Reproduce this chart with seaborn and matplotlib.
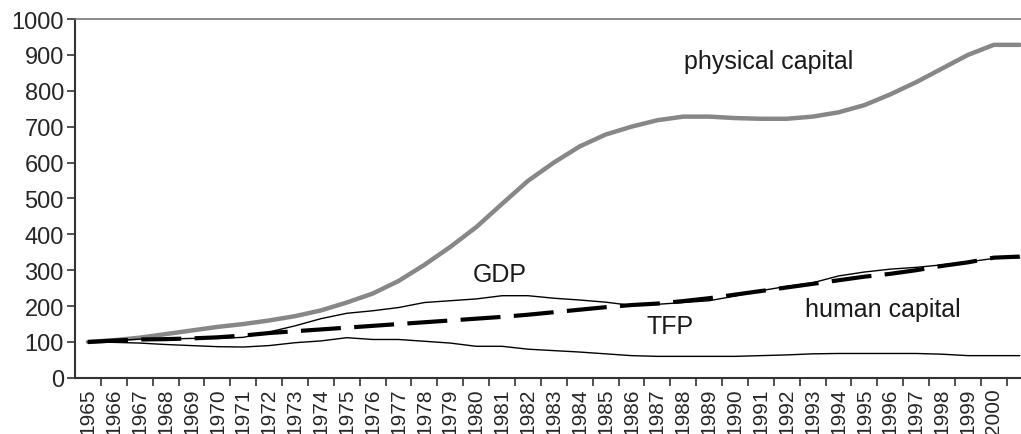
import numpy as np
import pandas as pd
import matplotlib
matplotlib.use("Agg")
import matplotlib.pyplot as plt
import seaborn as sns

# -----------------------------
# data (index 1965 = 100)
# -----------------------------
years = list(range(1965, 2002))
year_labels = [str(y) for y in years[:-1]] + [""]

physical_capital = [100, 105, 112, 122, 132, 142, 150, 160, 172, 188,
                    210, 235, 270, 315, 365, 420, 485, 549, 600, 645,
                    678, 700, 718, 728, 728, 724, 722, 722, 728, 740,
                    760, 790, 824, 862, 900, 928, 928]
gdp = [100, 104, 108, 108, 110, 110, 113, 128, 145, 165,
       180, 187, 196, 210, 215, 220, 229, 229, 222, 217,
       211, 202, 205, 210, 215, 228, 243, 255, 265, 284,
       295, 303, 308, 315, 323, 333, 335]
tfp = [100, 104, 107, 108, 110, 113, 118, 125, 130, 135,
       140, 145, 150, 155, 160, 165, 170, 176, 183, 190,
       197, 203, 207, 214, 222, 232, 242, 252, 262, 272,
       282, 290, 300, 312, 322, 335, 338]
human_capital = [100, 99, 97, 93, 90, 87, 86, 90, 98, 103,
                 112, 107, 107, 102, 97, 88, 88, 80, 76, 72,
                 67, 62, 60, 60, 60, 60, 62, 64, 67, 68,
                 68, 68, 68, 66, 62, 62, 62]

# -----------------------------
# plot
# -----------------------------
sns.set_style("white")
plt.rcParams["font.family"] = ["Liberation Sans", "DejaVu Sans"]

df = pd.DataFrame({
    "idx": np.arange(len(years)),
    "physical": physical_capital,
    "gdp": gdp,
    "tfp": tfp,
    "human": human_capital,
})

fig = plt.figure(figsize=(10.21, 4.35), dpi=100)
ax = fig.add_axes([0.0735, 0.129, 0.9265, 0.825])

sns.lineplot(data=df, x="idx", y="physical", ax=ax, color="#878787", linewidth=3.2)
sns.lineplot(data=df, x="idx", y="human", ax=ax, color="black", linewidth=1.0)
sns.lineplot(data=df, x="idx", y="gdp", ax=ax, color="black", linewidth=1.0)
sns.lineplot(data=df, x="idx", y="tfp", ax=ax, color="black", linewidth=3.0)
ax.lines[-1].set_dashes((9.6, 3.2))

ax.set_xlim(-0.5, 36.05)
ax.set_ylim(0, 1000)
ax.set_yticks(range(0, 1001, 100))
ax.tick_params(axis="y", labelsize=17, length=6, width=1.2, direction="out",
               left=True, color="#333333", pad=2)

# labels at category centres, tick marks on category boundaries
ax.set_xticks(df["idx"])
ax.set_xticklabels(year_labels, rotation=90, fontsize=15)
ax.set_xticks(np.arange(0.5, 36, 1), minor=True)
ax.tick_params(axis="x", which="major", length=0, pad=7)
ax.tick_params(axis="x", which="minor", length=6, width=1.2, bottom=True,
               direction="out", color="#333333")
ax.set_xlabel("")
ax.set_ylabel("")

for side in ["left", "bottom"]:
    ax.spines[side].set_color("#333333")
    ax.spines[side].set_linewidth(1.5)
ax.spines["top"].set_color("#777777")
ax.spines["top"].set_linewidth(1.2)
ax.spines["right"].set_visible(False)

ax.text(26.3, 883, "physical capital", fontsize=18, ha="center", va="center", color="#1a1a1a")
ax.text(15.9, 290, "GDP", fontsize=18, ha="center", va="center", color="#1a1a1a")
ax.text(22.5, 145, "TFP", fontsize=18, ha="center", va="center", color="#1a1a1a")
ax.text(30.7, 192, "human capital", fontsize=18, ha="center", va="center", color="#1a1a1a")

fig.savefig("out.png", dpi=100)
